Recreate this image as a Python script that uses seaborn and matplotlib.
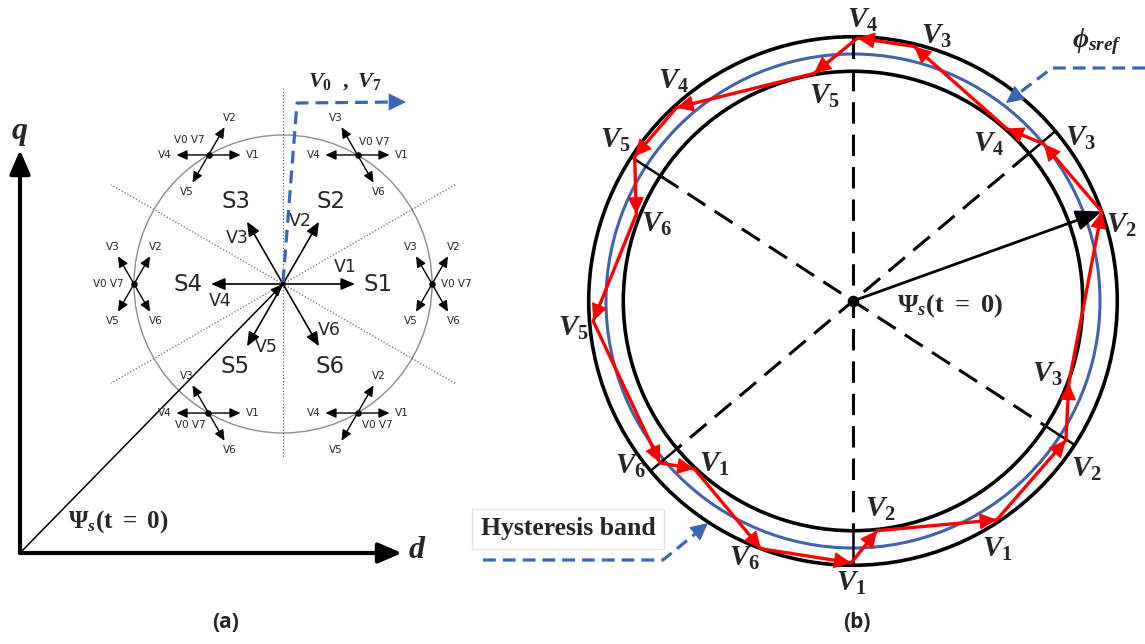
import numpy as np
import pandas as pd
import matplotlib
matplotlib.use("Agg")
import matplotlib.pyplot as plt
from matplotlib.patches import Circle
import seaborn as sns

# ---------------- data ----------------
# (a) two-level inverter voltage vectors and the six switching sectors
vector_names = ["V1", "V2", "V3", "V4", "V5", "V6"]
vector_angles = [0, 60, 120, 180, 240, 300]
sector_names = ["S1", "S2", "S3", "S4", "S5", "S6"]
sector_angles = [0, 60, 120, 180, 240, 300]
sector_boundaries = [30, 90, 150]
sector_vectors = [
    ["V2", "V3", "V5", "V6"],
    ["V1", "V3", "V4", "V6"],
    ["V1", "V2", "V4", "V5"],
    ["V2", "V3", "V5", "V6"],
    ["V1", "V3", "V4", "V6"],
    ["V1", "V2", "V4", "V5"],
]
zero_vectors = "V0 V7"

# (b) stator-flux trajectory kept inside the hysteresis band
flux_ref = 1.0
band_half_width = 0.07
traj_angle = [269.6, 276.0, 303.3, 326.8, 339.2, 19.8, 39.5, 48.3, 76.5,
              89.0, 99.7, 132.4, 146.5, 158.2, 184.4, 220.0, 226.6, 249.6]
traj_radius = [1.06, 0.935, 1.06, 1.03, 0.935, 1.07, 1.0, 0.935, 1.06,
               1.065, 0.935, 1.06, 1.06, 0.945, 1.055, 1.02, 0.935, 1.07]
traj_vector = ["V1", "V2", "V1", "V2", "V3", "V2", "V3", "V4", "V3",
               "V4", "V5", "V4", "V5", "V6", "V5", "V6", "V1", "V6"]
boundary_angles = [40, 147, 90]
tick_angles = [40, 147, 220, 327, 270]
initial_vertex = 5

# ---------------- style ----------------
sns.set_theme(style="white")
plt.rcParams.update({
    "font.family": ["DejaVu Sans"],
    "mathtext.fontset": "custom",
    "mathtext.it": "Liberation Serif:italic:bold",
    "mathtext.rm": "Liberation Serif:bold",
    "mathtext.bf": "Liberation Serif:bold",
    "mathtext.sf": "Liberation Serif:bold",
})
RED = "#ff0000"
BLUE = "#4262ab"
LEADER = "#3a66b4"

fig = plt.figure(figsize=(11.45, 6.44), dpi=100)
ax = fig.add_axes([0, 0, 1, 1])


def polar(c, r, ang):
    a = np.deg2rad(ang)
    return np.array([c[0] + r * np.cos(a), c[1] - r * np.sin(a)])


def arrow(p0, p1, color, lw, ms, hl=0.6, hw=0.3, z=3):
    ax.annotate("", xy=tuple(p1), xytext=tuple(p0),
                arrowprops=dict(arrowstyle=f"-|>,head_length={hl},head_width={hw}",
                                color=color, lw=lw, shrinkA=0, shrinkB=0,
                                mutation_scale=ms), zorder=z)


def head(p_from, p_to, color, ms, hl, hw, back=14, z=5):
    p_from, p_to = np.asarray(p_from, float), np.asarray(p_to, float)
    u = (p_to - p_from) / np.linalg.norm(p_to - p_from)
    arrow(p_to - u * back, p_to, color, 0.8, ms, hl, hw, z)


# ================= panel (a) =================
O = np.array([20, 553])
AC = np.array([283, 284])
AR = 149

arrow(O, (20, 150), "black", 3.0, 22, 0.65, 0.28)
arrow(O, (402, 553), "black", 3.0, 22, 0.65, 0.28)
ax.text(20, 132, "$q$", fontsize=23, ha="center", va="center")
ax.text(417, 549, "$d$", fontsize=23, ha="center", va="center")

ax.add_patch(Circle(tuple(AC), AR, fill=False, ec="#8c8c8c", lw=1.0, zorder=1))
dot = dict(color="#6a6a6a", lw=0.9, ls=(0, (1, 1.6)), zorder=1)
ax.plot([AC[0], AC[0]], [88, 458], **dot)
for b in sector_boundaries:
    if b == 90:
        continue
    half = (455 - AC[0]) / np.cos(np.deg2rad(b))
    p0, p1 = polar(AC, half, b), polar(AC, -half, b)
    ax.plot([p0[0], p1[0]], [p0[1], p1[1]], **dot)

# initial flux vector from the origin
arrow(O, AC, "black", 1.1, 12, 0.6, 0.25)
ax.text(68, 522, r"$\Psi_s(\mathrm{t}\ =\ 0)$", fontsize=18, ha="left", va="center")

# active vectors and sectors
for name, ang in zip(vector_names, vector_angles):
    arrow(AC, polar(AC, 72, ang), "black", 1.2, 12, 0.7, 0.3)
    lp = polar(AC, 65, ang + 15)
    ax.text(lp[0], lp[1], name, fontsize=12.5, ha="center", va="center")
for name, ang in zip(sector_names, sector_angles):
    sp = polar(AC, 95, ang)
    ax.text(sp[0], sp[1], name, fontsize=16.5, ha="center", va="center")

# switching choices at the middle of each sector
zero_offsets = [(24, 0), (17, -13), (-19, -15), (-26, 0), (-18, 12), (20, 12)]
star_points = []
for ang, choices, off in zip(sector_angles, sector_vectors, zero_offsets):
    c = polar(AC, AR, ang)
    star_points.append(c)
    for v in choices:
        va = vector_angles[vector_names.index(v)]
        arrow(c, polar(c, 32, va), "black", 1.0, 9, 0.7, 0.32)
        lp = polar(c, 43 if va % 180 else 44, va)
        ax.text(lp[0], lp[1], v, fontsize=7.5, ha="center", va="center")
    ax.text(c[0] + off[0], c[1] + off[1], zero_vectors, fontsize=7.5,
            ha="center", va="center")
star_points = np.array(star_points)
sns.scatterplot(x=star_points[:, 0], y=star_points[:, 1], s=22, color="black",
                linewidth=0, ax=ax, zorder=6)

# zero-vector leader
lead_a = np.array([[AC[0], AC[1] - 2], [297, 103], [396, 102]])
ax.plot(lead_a[:, 0], lead_a[:, 1], color=LEADER, lw=2.3, ls=(0, (4, 2.2)), zorder=4)
head((390, 102), (406, 102), LEADER, 16, 0.7, 0.35, back=12)
ax.text(345, 82, r"$V_0\ \ ,\ V_7$", fontsize=16, ha="center", va="center")
ax.text(226, 622, "(a)", fontsize=15, fontweight="bold", family="Open Sans",
        ha="center", va="center")

# ================= panel (b) =================
BC = np.array([853, 301])
BS = 247  # pixels per unit flux
r_out = (flux_ref + band_half_width) * BS
r_in = (flux_ref - band_half_width) * BS
ax.add_patch(Circle(tuple(BC), r_out, fill=False, ec="black", lw=2.6, zorder=2))
ax.add_patch(Circle(tuple(BC), r_in, fill=False, ec="black", lw=2.6, zorder=2))
ax.add_patch(Circle(tuple(BC), flux_ref * BS, fill=False, ec=BLUE, lw=2.2, zorder=2))

dash = dict(color="black", lw=2.2, ls=(0, (7, 3.6)), zorder=2)
for b in boundary_angles:
    if b == 90:
        p0, p1 = polar(BC, r_out, 90), polar(BC, r_in, 270)
    else:
        p0, p1 = polar(BC, r_in, b), polar(BC, r_in, b + 180)
    ax.plot([p0[0], p1[0]], [p0[1], p1[1]], **dash)
for t in tick_angles:
    p0, p1 = polar(BC, r_in, t), polar(BC, r_out, t)
    ax.plot([p0[0], p1[0]], [p0[1], p1[1]], color="black", lw=1.8, zorder=2)

traj = pd.DataFrame({"angle": traj_angle + traj_angle[:1],
                     "flux": traj_radius + traj_radius[:1]})
traj["x"] = BC[0] + BS * traj["flux"] * np.cos(np.deg2rad(traj["angle"]))
traj["y"] = BC[1] - BS * traj["flux"] * np.sin(np.deg2rad(traj["angle"]))
sns.lineplot(data=traj, x="x", y="y", sort=False, estimator=None, color=RED,
             lw=2.4, ax=ax, zorder=4)
pts = traj[["x", "y"]].to_numpy()[:-1]
n = len(pts)
label_offsets = [(0, 20), (3, -22), (1, 29), (21, 29), (-21, -9), (20, 14),
                 (37, -6), (-18, 15), (22, -10), (5, -18), (10, 23), (-3, -27),
                 (-19, -16), (20, 10), (-20, 7), (-29, 3), (20, -5), (-16, 9)]
for i in range(n):
    head(pts[i - 1], pts[i], RED, 22, 0.5, 0.24, back=12)
    v = traj_vector[i]
    ox, oy = label_offsets[i]
    ax.text(pts[i][0] + ox, pts[i][1] + oy, f"$V_{v[1]}$", fontsize=21,
            ha="center", va="center", zorder=7)

# initial flux vector
arrow(BC, pts[initial_vertex], "black", 2.0, 22, 0.7, 0.28, z=5)
sns.scatterplot(x=[BC[0]], y=[BC[1]], s=70, color="black", linewidth=0,
                ax=ax, zorder=6)
ax.text(897, 306, r"$\Psi_s(\mathrm{t}\ =\ 0)$", fontsize=19, ha="left", va="center")

# reference flux leader
lead_phi = np.array([[1145, 68], [1052, 68], [1014, 97]])
ax.plot(lead_phi[:, 0], lead_phi[:, 1], color=LEADER, lw=2.3, ls=(0, (4, 2.2)), zorder=4)
head((1052, 68), (1006, 103), LEADER, 16, 0.7, 0.35, back=12)
ax.text(1097, 42, r"$\phi_{sref}$", fontsize=20, ha="center", va="center")

# hysteresis band leader
ax.text(568, 529, "Hysteresis band", family="Liberation Serif", fontweight="bold",
        fontsize=18.5, ha="center", va="center",
        bbox=dict(boxstyle="square,pad=0.35", fc="white", ec="#e4e4e4", lw=1))
lead_h = np.array([[483, 560], [663, 560], [700, 530]])
ax.plot(lead_h[:, 0], lead_h[:, 1], color=LEADER, lw=2.3, ls=(0, (4, 2.2)), zorder=4)
head((663, 560), (708, 523), LEADER, 16, 0.7, 0.35, back=12)

ax.text(857, 622, "(b)", fontsize=15, fontweight="bold", family="Open Sans",
        ha="center", va="center")

ax.set_xlim(0, 1145)
ax.set_ylim(644, 0)
ax.set_aspect("equal")
ax.axis("off")
fig.savefig("out.png", dpi=100, facecolor="white")
